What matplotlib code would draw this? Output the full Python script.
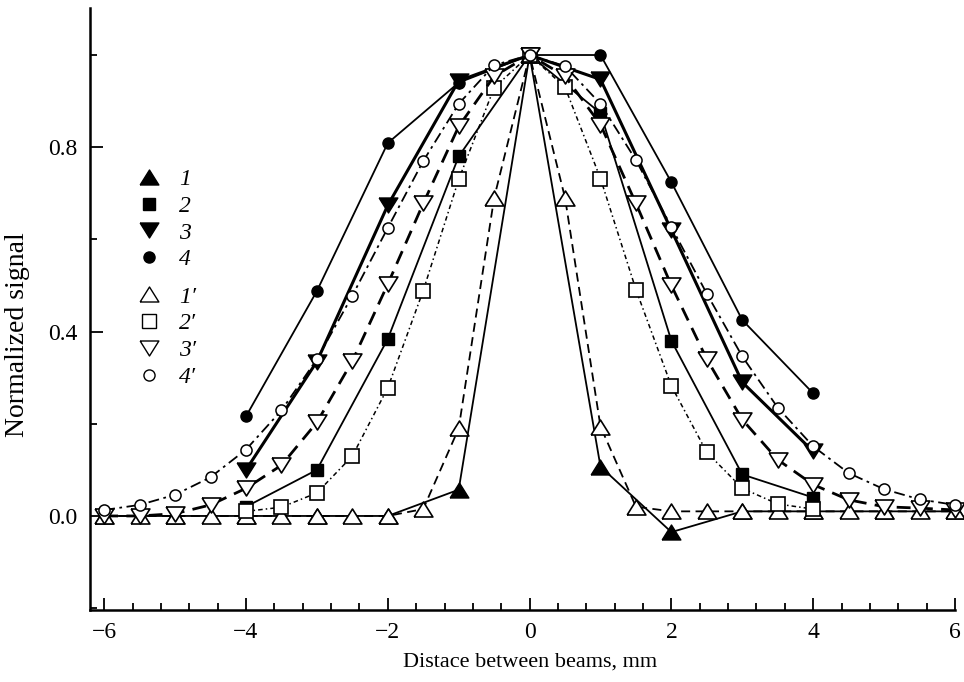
import numpy as np
import matplotlib.pyplot as plt
from matplotlib.lines import Line2D
from matplotlib.ticker import MultipleLocator

plt.rcParams['font.family'] = ['Liberation Serif', 'DejaVu Serif']

# filled symbols, solid lines (x = -4 ... 4, step 1)
x_int = [-4, -3, -2, -1, 0, 1, 2, 3, 4]
s2 = [0.02, 0.10, 0.384, 0.78, 1.0, 0.874, 0.38, 0.09, 0.04]
s3 = [0.10, 0.335, 0.674, 0.944, 1.0, 0.947, 0.62, 0.29, 0.14]
s4 = [0.216, 0.488, 0.809, 0.94, 1.0, 1.0, 0.724, 0.425, 0.266]

# series 1 runs across the whole range
x1 = [-6, -5, -4, -3, -2, -1, 0, 1, 2, 3, 4, 5, 6]
s1 = [0.0, 0.0, 0.0, 0.0, 0.0, 0.057, 1.0, 0.107, -0.035, 0.01, 0.01, 0.01, 0.01]

# open symbols (x = -6 ... 6, step 0.5)
x_half = [-6, -5.5, -5, -4.5, -4, -3.5, -3, -2.5, -2, -1.5, -1, -0.5, 0,
          0.5, 1, 1.5, 2, 2.5, 3, 3.5, 4, 4.5, 5, 5.5, 6]
s1p = [0.0, 0.0, 0.0, 0.0, 0.0, 0.0, 0.0, 0.0, 0.0, 0.015, 0.19, 0.69, 1.0,
       0.69, 0.194, 0.02, 0.01, 0.01, 0.01, 0.01, 0.01, 0.01, 0.01, 0.01, 0.01]
s3p = [0.0, 0.0, 0.005, 0.024, 0.06, 0.11, 0.203, 0.336, 0.503, 0.678, 0.845, 0.954, 1.0,
       0.954, 0.849, 0.678, 0.50, 0.34, 0.209, 0.122, 0.068, 0.035, 0.02, 0.017, 0.013]
s4p = [0.013, 0.024, 0.046, 0.084, 0.144, 0.229, 0.34, 0.478, 0.625, 0.77, 0.894, 0.978, 1.0,
       0.976, 0.894, 0.772, 0.627, 0.482, 0.346, 0.235, 0.151, 0.093, 0.058, 0.036, 0.024]

# open squares (x = -4 ... 4, step 0.5)
x2p = [-4, -3.5, -3, -2.5, -2, -1.5, -1, -0.5, 0, 0.5, 1, 1.5, 2, 2.5, 3, 3.5, 4]
s2p = [0.01, 0.019, 0.05, 0.13, 0.278, 0.489, 0.73, 0.929, 1.0,
       0.93, 0.732, 0.491, 0.282, 0.138, 0.06, 0.026, 0.015]

# slightly flattened triangles, like the printed symbols
tri_up = [(-1, -0.8), (1, -0.8), (0, 0.8), (-1, -0.8)]
tri_dn = [(-1, 0.8), (1, 0.8), (0, -0.8), (-1, 0.8)]
TS = 13.5

fig = plt.figure(figsize=(9.64, 6.82), dpi=100)
ax = fig.add_axes([90 / 964, 72 / 682, 865 / 964, 602 / 682])

k = dict(color='black', clip_on=False)
# lines with solid symbols
ax.plot(x1, s1, '-', lw=1.3, marker=tri_up, ms=TS, mfc='black', mec='black', zorder=3, **k)
ax.plot(x_int, s2, '-', lw=1.3, marker='s', ms=9, mfc='black', mec='black', zorder=3, **k)
ax.plot(x_int, s4, '-', lw=1.3, marker='o', ms=8, mfc='black', mec='black', zorder=3, **k)
ax.plot(x_int, s3, '-', lw=2.2, marker=tri_dn, ms=TS, mfc='black', mec='black', zorder=3.5, **k)
# lines with open symbols
ax.plot(x_half, s1p, ls=(0, (5, 3)), lw=1.3, marker=tri_up, ms=TS, mfc='white', mec='black',
        mew=1.2, zorder=4, **k)
ax.plot(x2p, s2p, ls=(0, (3, 2, 1, 2)), lw=1.1, marker='s', ms=10, mfc='white', mec='black',
        mew=1.2, zorder=4, **k)
ax.plot(x_half, s3p, ls=(0, (5, 3)), lw=2.0, marker=tri_dn, ms=TS, mfc='white', mec='black',
        mew=1.2, zorder=4, **k)
ax.plot(x_half, s4p, ls=(0, (6, 2.5, 1.5, 2.5)), lw=1.3, marker='o', ms=8, mfc='white', mec='black',
        mew=1.1, zorder=5, **k)

ax.set_xlim(-6.2, 6.0)
ax.set_ylim(-0.204, 1.102)
ax.xaxis.set_major_locator(MultipleLocator(2))
ax.xaxis.set_minor_locator(MultipleLocator(0.4))
ax.yaxis.set_major_locator(MultipleLocator(0.4))
ax.yaxis.set_minor_locator(MultipleLocator(0.2))
ax.set_xticks([-6, -4, -2, 0, 2, 4, 6])
ax.set_xticklabels(['\u22126', '\u22124', '\u22122', '0', '2', '4', '6'])
ax.set_yticks([0.0, 0.4, 0.8])
ax.set_yticklabels(['0.0', '0.4', '0.8'])
ax.tick_params(which='both', direction='in', labelsize=17, width=1.3)
ax.tick_params(which='major', length=9, pad=9)
ax.tick_params(which='minor', length=5)
for side in ['top', 'right']:
    ax.spines[side].set_visible(False)
for side in ['left', 'bottom']:
    ax.spines[side].set_linewidth(1.8)

ax.set_xlabel('Distace between beams, mm', fontsize=16)
ax.set_ylabel('Normalized signal', fontsize=20)
ax.xaxis.set_label_coords(0.509, -0.07)
ax.yaxis.set_label_coords(-0.069, 0.458)

# legends
h_solid = [Line2D([], [], ls='', marker=tri_up, ms=TS, color='black'),
           Line2D([], [], ls='', marker='s', ms=9, color='black'),
           Line2D([], [], ls='', marker=tri_dn, ms=TS, color='black'),
           Line2D([], [], ls='', marker='o', ms=8, color='black')]
h_open = [Line2D([], [], ls='', marker=tri_up, ms=TS, mfc='white', mec='black'),
          Line2D([], [], ls='', marker='s', ms=10, mfc='white', mec='black'),
          Line2D([], [], ls='', marker=tri_dn, ms=TS, mfc='white', mec='black'),
          Line2D([], [], ls='', marker='o', ms=8, mfc='white', mec='black')]
lab1 = ['1', '2', '3', '4']
lab2 = ['1\u2032', '2\u2032', '3\u2032', '4\u2032']
lkw = dict(frameon=False, prop={'style': 'italic', 'size': 17}, handlelength=1.0,
           handletextpad=0.8, labelspacing=0.22, borderpad=0, borderaxespad=0,
           loc='upper left')
leg1 = ax.legend(h_solid, lab1, bbox_to_anchor=(0.054, 0.733), **lkw)
ax.add_artist(leg1)
ax.legend(h_open, lab2, bbox_to_anchor=(0.054, 0.538), **lkw)

fig.savefig('out.png', dpi=100)
